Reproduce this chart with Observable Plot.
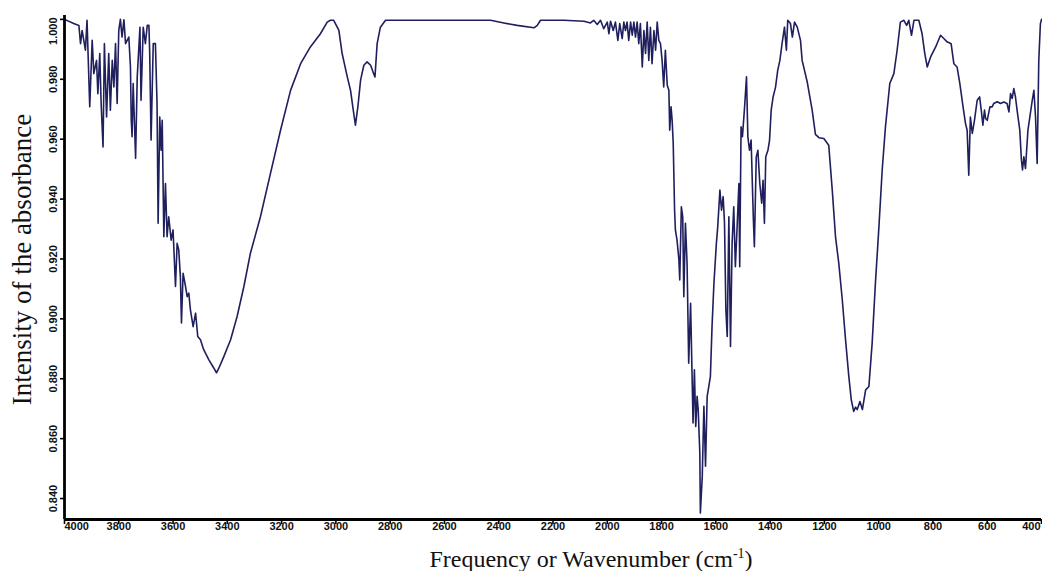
<!DOCTYPE html>
<html><head><meta charset="utf-8">
<script src="https://cdn.jsdelivr.net/npm/d3@7"></script>
<script src="https://cdn.jsdelivr.net/npm/@observablehq/plot@0.6"></script>
<style>body{margin:0;background:#fff}#chart svg{display:block}</style>
</head><body><div id="chart"></div>
<script>
const wavenumber = [4000,3966,3947,3941,3935,3923,3917,3907,3898,3892,3882,3877,3870,3865,3858,3853,3845,3837,3831,3824,3818,3812,3806,3800,3794,3788,3781,3775,3763,3757,3754,3751,3747,3738,3732,3722,3718,3710,3702,3695,3689,3686,3681,3673,3665,3659,3655,3649,3644,3640,3634,3628,3622,3616,3607,3600,3591,3585,3579,3573,3569,3563,3554,3548,3542,3536,3526,3517,3509,3499,3487,3468,3450,3440,3431,3413,3388,3364,3339,3315,3278,3241,3204,3167,3130,3094,3057,3032,3020,3008,2995,2989,2977,2958,2946,2936,2928,2919,2909,2897,2885,2872,2863,2856,2848,2836,2817,2725,2528,2430,2381,2332,2270,2258,2246,2160,2086,2062,2050,2037,2025,2013,2000,1994,1988,1978,1970,1961,1954,1945,1939,1933,1927,1921,1914,1908,1902,1896,1890,1884,1878,1871,1865,1859,1853,1847,1841,1835,1828,1822,1816,1810,1804,1798,1792,1786,1779,1773,1770,1765,1761,1757,1752,1749,1743,1736,1733,1727,1722,1718,1712,1706,1700,1693,1690,1684,1679,1674,1669,1665,1659,1657,1650,1644,1638,1632,1626,1620,1614,1607,1598,1593,1585,1579,1573,1568,1563,1558,1552,1546,1540,1534,1528,1521,1515,1512,1507,1502,1494,1487,1482,1476,1470,1462,1458,1451,1445,1438,1431,1426,1421,1416,1408,1402,1396,1389,1380,1372,1364,1356,1347,1340,1335,1325,1318,1310,1300,1288,1282,1263,1245,1233,1220,1202,1184,1171,1159,1147,1134,1122,1110,1101,1092,1085,1079,1069,1060,1048,1036,1024,1012,999,987,975,959,944,932,920,907,897,889,879,870,852,840,830,821,809,790,772,760,748,733,723,711,701,689,680,674,668,662,655,647,637,628,622,616,610,606,600,590,582,576,563,551,539,527,520,514,508,502,496,490,480,474,470,465,459,450,443,434,428,422,416,410,404,400];
const absorbance = [1.0000,0.9986,0.9980,0.9919,0.9963,0.9897,0.9997,0.9708,0.9930,0.9819,0.9863,0.9752,0.9886,0.9719,0.9574,0.9919,0.9674,0.9886,0.9697,0.9863,0.9774,0.9919,0.9719,0.9963,1.0000,0.9941,0.9999,0.9919,0.9941,0.9841,0.9663,0.9608,0.9786,0.9536,0.9808,0.9974,0.9730,0.9974,0.9919,0.9980,0.9980,0.9886,0.9597,0.9919,0.9919,0.9719,0.9319,0.9674,0.9563,0.9663,0.9274,0.9452,0.9274,0.9341,0.9263,0.9297,0.9108,0.9252,0.9230,0.9141,0.8986,0.9152,0.9108,0.9074,0.9086,0.9030,0.8974,0.9019,0.8941,0.8930,0.8897,0.8863,0.8836,0.8820,0.8836,0.8874,0.8930,0.9008,0.9108,0.9219,0.9341,0.9486,0.9630,0.9763,0.9852,0.9908,0.9952,0.9991,0.9997,0.9997,0.9974,0.9963,0.9886,0.9808,0.9763,0.9697,0.9647,0.9708,0.9797,0.9847,0.9858,0.9847,0.9824,0.9808,0.9919,0.9974,0.9997,0.9997,0.9997,0.9997,0.9988,0.9980,0.9972,0.9980,0.9997,0.9997,0.9994,0.9988,0.9997,0.9983,0.9997,0.9969,0.9991,0.9952,0.9994,0.9963,0.9991,0.9930,0.9986,0.9936,0.9991,0.9963,0.9991,0.9930,0.9991,0.9947,0.9991,0.9941,0.9991,0.9919,0.9986,0.9841,0.9963,0.9886,0.9991,0.9863,0.9974,0.9852,0.9963,0.9897,0.9991,0.9930,0.9919,0.9863,0.9774,0.9897,0.9780,0.9763,0.9630,0.9708,0.9663,0.9586,0.9363,0.9297,0.9263,0.9197,0.9130,0.9374,0.9341,0.9074,0.9319,0.9186,0.8852,0.9052,0.8919,0.8652,0.8830,0.8641,0.8741,0.8697,0.8552,0.8352,0.8474,0.8708,0.8508,0.8741,0.8774,0.8808,0.8974,0.9119,0.9252,0.9308,0.9430,0.9363,0.9408,0.9319,0.9030,0.8941,0.9341,0.8908,0.9252,0.9374,0.9174,0.9319,0.9452,0.9174,0.9641,0.9608,0.9708,0.9808,0.9608,0.9563,0.9597,0.9341,0.9241,0.9541,0.9563,0.9452,0.9386,0.9463,0.9319,0.9541,0.9563,0.9597,0.9697,0.9741,0.9774,0.9830,0.9863,0.9919,0.9974,0.9897,0.9997,0.9986,0.9941,0.9991,0.9974,0.9930,0.9863,0.9790,0.9697,0.9616,0.9605,0.9602,0.9580,0.9430,0.9274,0.9186,0.9063,0.8930,0.8808,0.8730,0.8691,0.8705,0.8697,0.8724,0.8697,0.8763,0.8774,0.8919,0.9119,0.9308,0.9497,0.9641,0.9786,0.9819,0.9897,0.9991,0.9997,0.9980,0.9997,0.9947,0.9997,0.9997,0.9952,0.9886,0.9841,0.9874,0.9908,0.9947,0.9936,0.9925,0.9919,0.9852,0.9841,0.9786,0.9708,0.9652,0.9630,0.9480,0.9674,0.9619,0.9663,0.9730,0.9741,0.9697,0.9647,0.9697,0.9669,0.9663,0.9708,0.9708,0.9719,0.9725,0.9719,0.9724,0.9719,0.9691,0.9752,0.9736,0.9769,0.9741,0.9697,0.9630,0.9530,0.9497,0.9541,0.9502,0.9630,0.9674,0.9730,0.9763,0.9674,0.9519,0.9863,0.9986,1.0000];
const xTicks = [4000,3800,3600,3400,3200,3000,2800,2600,2400,2200,2000,1800,1600,1400,1200,1000,800,600,400];
const yTicks = [1.000,0.980,0.960,0.940,0.920,0.900,0.880,0.860,0.840];
const xTitleMain = "Frequency or Wavenumber (cm";
const xTitleSup = "-1";
const yTitle = "Intensity of the absorbance";

const data = wavenumber.map((w, i) => ({w, a: absorbance[i]}));
const yMin = 0.833, yMax = 1.0013;
const xLeft = 4000, xRight = 400;
const fmtY = d3.format(".3f");
const sans = "'Liberation Sans', Arial, sans-serif";
const serif = "'Liberation Serif', 'Times New Roman', serif";
const tickStyle = {fontWeight: "bold", fontSize: 11, fontFamily: sans, fill: "#111"};

const chart = Plot.plot({
  width: 1042, height: 571,
  marginLeft: 64, marginRight: 1, marginTop: 15, marginBottom: 52,
  style: {background: "#fff", fontFamily: sans},
  x: {domain: [xLeft, xRight], axis: null},
  y: {domain: [yMin, yMax], axis: null},
  marks: [
    Plot.ruleX(xTicks, {x: d => d, y1: yMin, y2: yMin, insetBottom: -5, stroke: "#000", strokeWidth: 1.6}),
    Plot.ruleY(yTicks, {y: d => d, x1: xLeft, x2: xLeft, insetLeft: -4, stroke: "#000", strokeWidth: 1.6}),
    Plot.line(data, {x: "w", y: "a", stroke: "#1f1f5e", strokeWidth: 1.6}),
    Plot.ruleX([xLeft], {y1: yMin, y2: yMax, stroke: "#000", strokeWidth: 2.8}),
    Plot.ruleY([yMin], {x1: xLeft, x2: xRight, stroke: "#000", strokeWidth: 2.8}),
    Plot.text(xTicks.filter(d => d !== xLeft && d !== xRight), {x: d => d, y: yMin, dy: 7, text: d => String(d), lineAnchor: "middle", textAnchor: "middle", ...tickStyle}),
    Plot.text([xLeft], {x: d => d, y: yMin, dy: 7, text: d => String(d), lineAnchor: "middle", textAnchor: "start", ...tickStyle}),
    Plot.text([xRight], {x: d => d, y: yMin, dy: 7, dx: -1, text: d => String(d), lineAnchor: "middle", textAnchor: "end", ...tickStyle}),
    Plot.text(yTicks.filter(d => d < 1), {x: xLeft, y: d => d, dx: -11, text: fmtY, rotate: -90, lineAnchor: "middle", textAnchor: "middle", ...tickStyle}),
    Plot.text(yTicks.filter(d => d >= 1), {x: xLeft, y: d => d, dx: -11, dy: -2, text: fmtY, rotate: -90, lineAnchor: "middle", textAnchor: "end", ...tickStyle}),
    Plot.text([yTitle], {frameAnchor: "left", dx: -42, dy: -8, rotate: -90, text: d => d, lineAnchor: "middle", textAnchor: "middle", fontSize: 27, fontFamily: serif, fill: "#111"})
  ]
});

const svg = d3.select(chart);
const t = svg.append("text")
  .attr("x", 591).attr("y", 567)
  .attr("text-anchor", "middle")
  .attr("font-family", serif)
  .attr("font-size", 24)
  .attr("fill", "#111");
t.append("tspan").text(xTitleMain);
t.append("tspan").attr("dy", -9).attr("font-size", 14).text(xTitleSup);
t.append("tspan").attr("dy", 9).text(")");

document.getElementById("chart").append(chart);
</script>
</body></html>
